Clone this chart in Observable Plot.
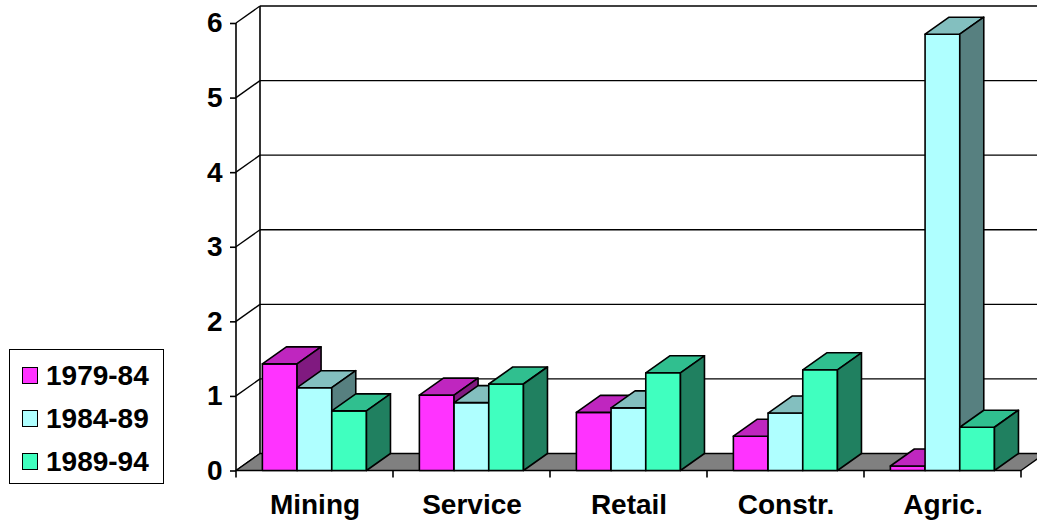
<!DOCTYPE html>
<html><head><meta charset="utf-8">
<script src="https://cdn.jsdelivr.net/npm/d3@7"></script>
<script src="https://cdn.jsdelivr.net/npm/@observablehq/plot@0.6"></script>
<style>
body{margin:0;background:#fff;}
#wrap{position:relative;width:1037px;height:523px;font-family:"Liberation Sans",Arial,sans-serif;}
#legend{position:absolute;left:9px;top:349px;width:155px;height:135px;border:1.5px solid #000;box-sizing:border-box;background:#fff;}
.row{position:absolute;left:0;height:30px;display:flex;align-items:center;font-weight:bold;font-size:28px;color:#000;}
.sw{width:16px;height:17px;border:1.5px solid #000;box-sizing:border-box;margin-left:12px;margin-right:8px;}
</style></head><body><div id="wrap"></div>
<script>
const categories = ["Mining", "Service", "Retail", "Constr.", "Agric."];
const seriesNames = ["1979-84", "1984-89", "1989-94"];
const values7984 = [1.43, 1.01, 0.78, 0.46, 0.06];
const values8489 = [1.11, 0.91, 0.84, 0.77, 5.85];
const values8994 = [0.80, 1.16, 1.31, 1.35, 0.58];
const yTicks = [0, 1, 2, 3, 4, 5, 6];

const frontColors = ["#FF33FF", "#AFFFFF", "#40FFBF"];
const topColors = ["#BF26BF", "#83BFBF", "#30BF8F"];
const sideColors = ["#801A80", "#578080", "#208060"];

const seriesValues = [values7984, values8489, values8994];
const data = [];
seriesNames.forEach((s, j) => categories.forEach((c, i) => data.push({category: c, series: s, value: seriesValues[j][i]})));

const DX = 24, DY = -17;          // depth of the 3D effect (pixels)
const GAP = 0.168, BAR = 0.221;   // bar placement as fractions of the band
const NS = "http://www.w3.org/2000/svg";
function el(tag, attrs) {
  const e = document.createElementNS(NS, tag);
  for (const k in attrs) e.setAttribute(k, attrs[k]);
  return e;
}
function poly(pts, fill, sw = 1.6) {
  return el("polygon", {points: pts.map(p => p.join(",")).join(" "), fill, stroke: "#000", "stroke-width": sw, "stroke-linejoin": "round"});
}
function line(x1, y1, x2, y2, sw = 1.4) {
  return el("line", {x1, y1, x2, y2, stroke: "#000", "stroke-width": sw});
}

// back wall, side wall lines and gridlines
const walls = Plot.ruleY(yTicks, {y: d => d, render: (index, scales, values, dims) => {
  const g = el("g", {});
  const ml = dims.marginLeft, xr = dims.width - dims.marginRight;
  for (const i of index) {
    const y = values.y[i];
    g.appendChild(line(ml, y, ml + DX, y + DY));
    if (yTicks[i] !== 0) g.appendChild(line(ml + DX, y + DY, xr + DX, y + DY));
  }
  const y0 = scales.y(0), yTop = scales.y(d3.max(yTicks));
  g.appendChild(line(ml + DX, y0 + DY, ml + DX, yTop + DY, 1.6));
  return g;
}});

// floor, front axis lines and band ticks
const floor = Plot.ruleY([0], {y: d => d, render: (index, scales, values, dims) => {
  const g = el("g", {});
  const ml = dims.marginLeft, xr = dims.width - dims.marginRight;
  const y0 = values.y[0];
  g.appendChild(poly([[ml, y0], [xr, y0], [xr + DX, y0 + DY], [ml + DX, y0 + DY]], "#808080", 1.4));
  g.appendChild(line(ml, y0, ml, scales.y(d3.max(yTicks)), 1.6));
  const bw = scales.x.bandwidth();
  const edges = scales.x.domain().map(c => scales.x(c));
  edges.push(edges[edges.length - 1] + bw);
  for (const x of edges) g.appendChild(line(x, y0, x, y0 + 7, 1.6));
  return g;
}});

function bars3d(j) {
  return Plot.barY(data.filter(d => d.series === seriesNames[j]), {
    x: "category", y: "value",
    render: (index, scales, values) => {
      const g = el("g", {});
      const bw = scales.x.bandwidth();
      for (const i of index) {
        const x0 = values.x[i] + bw * (GAP + j * BAR), x1 = x0 + bw * BAR;
        const yb = Math.max(values.y1[i], values.y2[i]), yt = Math.min(values.y1[i], values.y2[i]);
        g.appendChild(poly([[x0, yb], [x1, yb], [x1, yt], [x0, yt]], frontColors[j]));
        g.appendChild(poly([[x0, yt], [x1, yt], [x1 + DX, yt + DY], [x0 + DX, yt + DY]], topColors[j]));
        g.appendChild(poly([[x1, yb], [x1, yt], [x1 + DX, yt + DY], [x1 + DX, yb + DY]], sideColors[j]));
      }
      return g;
    }
  });
}

const chart = Plot.plot({
  width: 1037, height: 523,
  marginLeft: 236, marginRight: 16, marginTop: 23, marginBottom: 52.5,
  style: {fontFamily: "'Liberation Sans', Arial, sans-serif", fontWeight: "bold", fontSize: "28px", color: "#000", background: "#fff", overflow: "visible"},
  x: {domain: categories, padding: 0},
  y: {domain: [0, 6]},
  marks: [
    walls,
    floor,
    bars3d(0), bars3d(1), bars3d(2),
    Plot.axisY({ticks: yTicks, tickFormat: "d", tickSize: 6, tickPadding: 8, label: null, strokeWidth: 1.6, fontSize: 28}),
    Plot.axisX({tickSize: 0, tickPadding: 23, label: null, fontSize: 28})
  ]
});
const wrap = document.getElementById("wrap");
wrap.appendChild(chart);

const legend = document.createElement("div");
legend.id = "legend";
seriesNames.forEach((s, j) => {
  const row = document.createElement("div");
  row.className = "row";
  row.style.top = (376 + 43 * j - 349 - 15 - 1.5) + "px";
  const sw = document.createElement("div");
  sw.className = "sw";
  sw.style.background = frontColors[j];
  row.appendChild(sw);
  row.appendChild(document.createTextNode(s));
  legend.appendChild(row);
});
wrap.appendChild(legend);
</script></body></html>
